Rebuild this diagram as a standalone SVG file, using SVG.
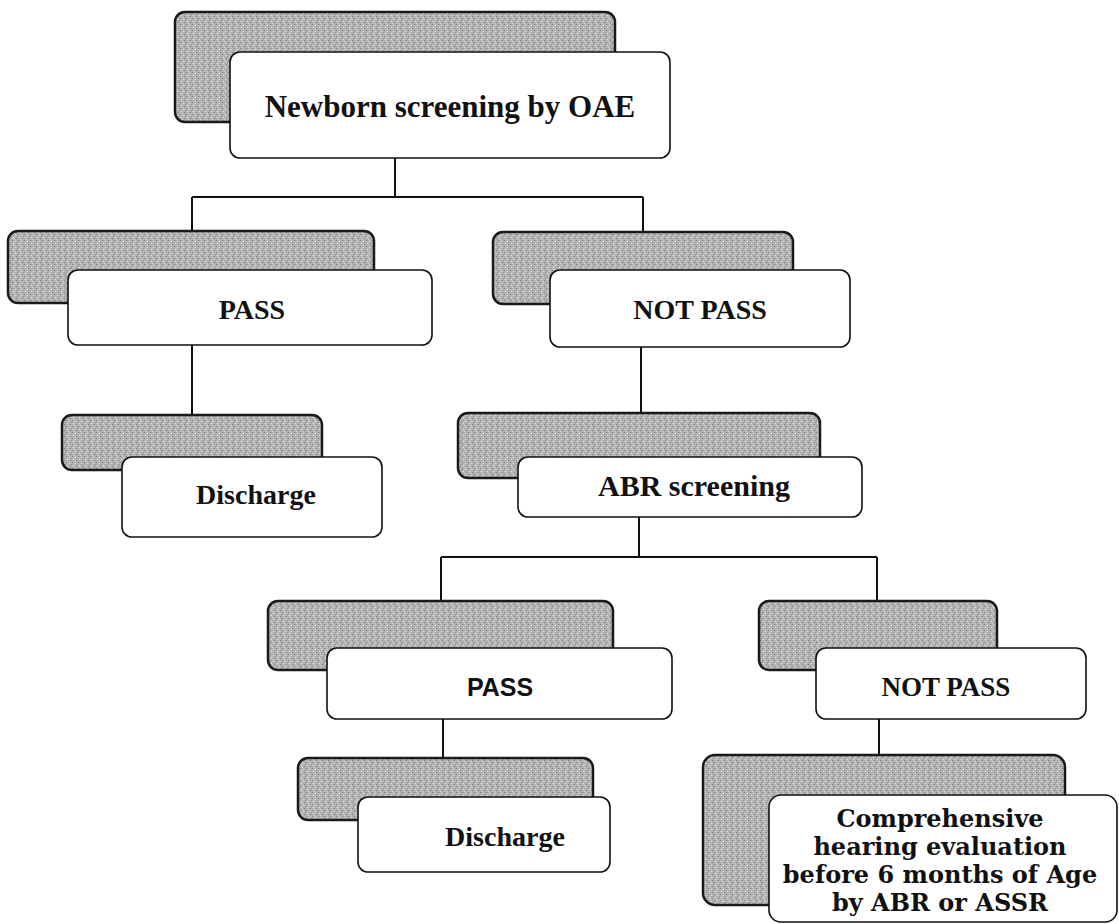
<svg xmlns="http://www.w3.org/2000/svg" width="1119" height="924" viewBox="0 0 1119 924">
<defs>
<pattern id="tex" width="6" height="6" patternUnits="userSpaceOnUse">
<rect width="6" height="6" fill="#b3b3b3"/>
<rect x="0" y="0" width="1" height="1" fill="#7a7a7a"/>
<rect x="3" y="1" width="1" height="1" fill="#e0e0e0"/>
<rect x="1" y="3" width="1" height="1" fill="#e6e6e6"/>
<rect x="4" y="4" width="1" height="1" fill="#808080"/>
<rect x="2" y="5" width="1" height="1" fill="#d0d0d0"/>
<rect x="5" y="2" width="1" height="1" fill="#909090"/>
</pattern>
<style>
.back{fill:url(#tex);stroke:#1a1a1a;stroke-width:2.5}
.front{fill:#ffffff;stroke:#111;stroke-width:1.6}
.t{font-family:"Liberation Serif","Times New Roman",serif;font-weight:bold;fill:#111;text-anchor:middle}
.d{font-family:"DejaVu Serif","Liberation Serif",serif;font-weight:bold;fill:#111;text-anchor:middle}
.s{font-family:"Liberation Sans",Arial,sans-serif;font-weight:bold;fill:#111;text-anchor:middle}
.c{fill:none;stroke:#111;stroke-width:2}
</style>
</defs>
<rect width="1119" height="924" fill="#ffffff"/>
<g id="connectors">
<path class="c" d="M395 158 V197 M192 197 H643 M192 197 V231 M643 197 V232"/>
<path class="c" d="M192 345 V415"/>
<path class="c" d="M641 347 V413"/>
<path class="c" d="M639 517 V557 M441 557 H877 M441 557 V601 M877 557 V601"/>
<path class="c" d="M443 719 V758"/>
<path class="c" d="M879 719 V755"/>
</g>
<g id="n-oae">
<rect class="back" x="175" y="12" width="440" height="110" rx="10"/>
<rect class="front" x="230" y="52" width="440" height="106" rx="10"/>
<text class="t" x="450" y="117" font-size="31">Newborn screening by OAE</text>
</g>
<g id="n-pass1">
<rect class="back" x="8" y="231" width="366" height="72" rx="10"/>
<rect class="front" x="68" y="270" width="364" height="75" rx="10"/>
<text class="t" x="252" y="319" font-size="28">PASS</text>
</g>
<g id="n-notpass1">
<rect class="back" x="493" y="232" width="300" height="72" rx="10"/>
<rect class="front" x="550" y="270" width="300" height="77" rx="10"/>
<text class="t" x="700" y="319" font-size="28">NOT PASS</text>
</g>
<g id="n-discharge1">
<rect class="back" x="62" y="415" width="260" height="55" rx="10"/>
<rect class="front" x="122" y="457" width="260" height="80" rx="10"/>
<text class="t" x="256" y="504" font-size="28">Discharge</text>
</g>
<g id="n-abr">
<rect class="back" x="458" y="413" width="362" height="65" rx="10"/>
<rect class="front" x="518" y="457" width="344" height="60" rx="10"/>
<text class="t" x="694" y="496" font-size="30">ABR screening</text>
</g>
<g id="n-pass2">
<rect class="back" x="268" y="601" width="345" height="69" rx="10"/>
<rect class="front" x="327" y="648" width="345" height="71" rx="10"/>
<text class="s" x="500" y="696" font-size="25">PASS</text>
</g>
<g id="n-notpass2">
<rect class="back" x="759" y="601" width="238" height="69" rx="10"/>
<rect class="front" x="816" y="648" width="270" height="71" rx="10"/>
<text class="t" x="946" y="696" font-size="27">NOT PASS</text>
</g>
<g id="n-discharge2">
<rect class="back" x="298" y="758" width="295" height="62" rx="10"/>
<rect class="front" x="358" y="797" width="252" height="75" rx="10"/>
<text class="t" x="505" y="846" font-size="28">Discharge</text>
</g>
<g id="n-eval">
<rect class="back" x="703" y="755" width="362" height="150" rx="12"/>
<rect class="front" x="769" y="795" width="348" height="127" rx="12"/>
<text class="d" x="940" y="827" font-size="24">Comprehensive</text>
<text class="d" x="940" y="855" font-size="24">hearing evaluation</text>
<text class="d" x="940" y="883" font-size="24">before 6 months of Age</text>
<text class="d" x="940" y="911" font-size="24">by ABR or ASSR</text>
</g>
</svg>
